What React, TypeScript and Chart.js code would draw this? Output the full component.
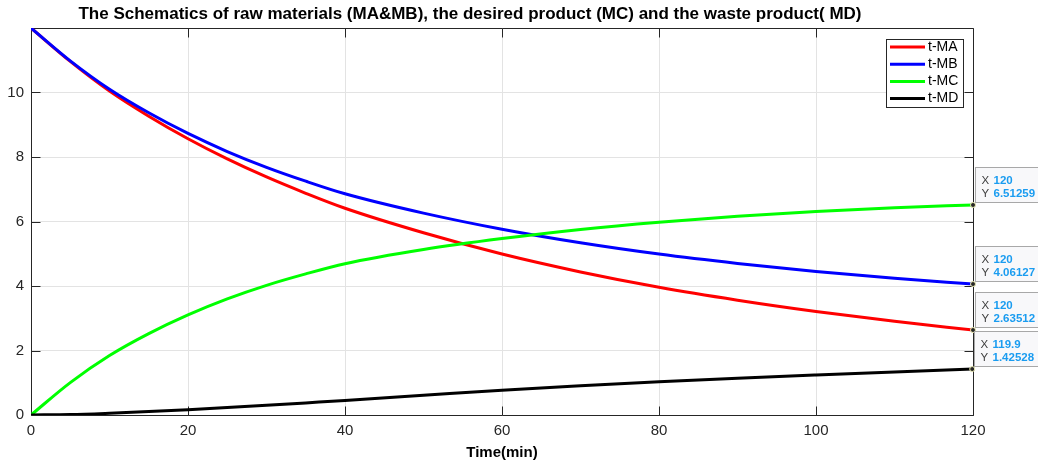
import React, { useEffect, useRef } from 'react';
import { Chart, registerables } from 'chart.js';

Chart.register(...registerables);

const times = [0, 5, 10, 15, 20, 25, 30, 35, 40, 50, 60, 70, 80, 90, 100, 110, 120];
const maValues = [12, 10.965, 10.045, 9.265, 8.565, 7.94, 7.38, 6.875, 6.41, 5.65, 4.99, 4.435, 3.96, 3.56, 3.21, 2.905, 2.635];
const mbValues = [12, 10.98, 10.1, 9.37, 8.73, 8.17, 7.68, 7.25, 6.86, 6.26, 5.76, 5.34, 4.99, 4.7, 4.45, 4.24, 4.061];
const mcValues = [0, 1.005, 1.845, 2.525, 3.105, 3.6, 4.02, 4.375, 4.69, 5.13, 5.47, 5.755, 5.98, 6.16, 6.31, 6.425, 6.513];
const mdValues = [0, 0.015, 0.055, 0.105, 0.165, 0.23, 0.3, 0.375, 0.45, 0.61, 0.77, 0.905, 1.03, 1.14, 1.24, 1.335, 1.425];
const seriesLabels = ['t-MA', 't-MB', 't-MC', 't-MD'];
const seriesColors = ['#ff0000', '#0000ff', '#00ff00', '#000000'];
const xTicks = [0, 20, 40, 60, 80, 100, 120];
const yTicks = [0, 2, 4, 6, 8, 10];
const tipX = ['120', '120', '120', '119.9'];
const tipY = ['6.51259', '4.06127', '2.63512', '1.42528'];
const chartTitle = 'The Schematics of raw materials (MA&MB), the desired product (MC) and the waste product( MD)';
const xTitle = 'Time(min)';

const FONT = '"Liberation Sans", Arial, Helvetica, sans-serif';
const AXIS = '#262626';

export default function App() {
  const ref = useRef<HTMLCanvasElement>(null);

  useEffect(() => {
    const canvas = ref.current!;
    const all = [maValues, mbValues, mcValues, mdValues];
    const datasets = all.map((vals, i) => ({
      label: seriesLabels[i],
      data: times.map((t, j) => ({ x: t, y: vals[j] })),
      borderColor: seriesColors[i],
      backgroundColor: seriesColors[i],
      borderWidth: 3,
      pointRadius: 0,
      cubicInterpolationMode: 'monotone' as const,
      fill: false,
      order: 4 - i,
    }));

    const framePlugin = {
      id: 'frame',
      beforeDatasetsDraw(chart: any) {
        const { ctx, chartArea: a, scales } = chart;
        const L = Math.floor(a.left) + 0.5;
        const R = Math.floor(a.right) + 0.5;
        const T = Math.floor(a.top) + 0.5;
        const B = Math.floor(a.bottom) + 0.5;
        ctx.save();
        ctx.strokeStyle = AXIS;
        ctx.lineWidth = 1;
        ctx.beginPath();
        ctx.rect(L, T, R - L, B - T);
        const tl = 9;
        xTicks.forEach((v) => {
          const p = Math.round(scales.x.getPixelForValue(v)) + 0.5;
          ctx.moveTo(p, B); ctx.lineTo(p, B - tl);
          ctx.moveTo(p, T); ctx.lineTo(p, T + tl);
        });
        yTicks.forEach((v) => {
          const p = Math.round(scales.y.getPixelForValue(v)) + 0.5;
          ctx.moveTo(L, p); ctx.lineTo(L + tl, p);
          ctx.moveTo(R, p); ctx.lineTo(R - tl, p);
        });
        ctx.stroke();
        ctx.restore();
      },
    };

    const overlayPlugin = {
      id: 'overlay',
      afterDraw(chart: any) {
        const { ctx, scales } = chart;
        ctx.save();
        // title
        ctx.fillStyle = '#000';
        ctx.font = `bold 17px ${FONT}`;
        ctx.textAlign = 'center';
        ctx.textBaseline = 'middle';
        ctx.fillText(chartTitle, 470, 14);

        // legend
        const lx = 886.5, ly = 39.5, lw = 77, lh = 68;
        ctx.fillStyle = '#ffffff';
        ctx.fillRect(lx, ly, lw, lh);
        ctx.strokeStyle = AXIS;
        ctx.lineWidth = 1;
        ctx.strokeRect(lx, ly, lw, lh);
        ctx.font = `14px ${FONT}`;
        ctx.textAlign = 'left';
        ctx.textBaseline = 'middle';
        seriesLabels.forEach((lab, i) => {
          const y = 47 + i * 17.2;
          ctx.strokeStyle = seriesColors[i];
          ctx.lineWidth = 3;
          ctx.beginPath();
          ctx.moveTo(890, y);
          ctx.lineTo(925, y);
          ctx.stroke();
          ctx.fillStyle = '#000';
          ctx.fillText(lab, 928, y);
        });

        // datatips
        tipX.forEach((xs, i) => {
          const px = scales.x.getPixelForValue(parseFloat(xs));
          const py = scales.y.getPixelForValue(parseFloat(tipY[i]));
          const bx = Math.round(px) + 2.5;
          const by = Math.round(py) - 37.5;
          ctx.fillStyle = '#f8f8fa';
          ctx.fillRect(bx, by, 80, 35);
          ctx.strokeStyle = '#a8a8a8';
          ctx.lineWidth = 1;
          ctx.strokeRect(bx, by, 80, 35);
          ctx.textAlign = 'left';
          ctx.textBaseline = 'middle';
          ctx.font = `11.5px ${FONT}`;
          ctx.fillStyle = '#404040';
          ctx.fillText('X', bx + 6, by + 13);
          ctx.fillText('Y', bx + 6, by + 26.5);
          ctx.font = `bold 11.5px ${FONT}`;
          ctx.fillStyle = '#1a9cf0';
          ctx.fillText(xs, bx + 18, by + 13);
          ctx.fillText(tipY[i], bx + 18, by + 26.5);
          // marker
          ctx.beginPath();
          ctx.arc(px, py, 2.5, 0, Math.PI * 2);
          ctx.fillStyle = '#262626';
          ctx.fill();
          ctx.strokeStyle = '#e8e8b0';
          ctx.lineWidth = 1;
          ctx.stroke();
        });
        ctx.restore();
      },
    };

    const chart = new Chart(canvas, {
      type: 'line',
      data: { datasets },
      options: {
        animation: false,
        responsive: false,
        devicePixelRatio: 1,
        layout: { padding: { top: 28, right: 65, left: 0, bottom: 0 } },
        plugins: {
          legend: { display: false },
          title: { display: false },
          tooltip: { enabled: false },
        },
        scales: {
          x: {
            type: 'linear',
            min: 0,
            max: 120,
            afterBuildTicks: (s: any) => { s.ticks = xTicks.map((v) => ({ value: v })); },
            afterFit: (s: any) => { s.height = 49; },
            grid: { color: '#e3e3e3', lineWidth: 1, drawTicks: false },
            border: { display: false },
            ticks: {
              padding: 7,
              color: AXIS,
              font: { family: FONT, size: 15 },
              maxRotation: 0,
              callback: (v: any) => String(v),
            },
            title: {
              display: true,
              text: xTitle,
              color: '#000',
              font: { family: FONT, size: 15, weight: 'bold' },
              padding: { top: 0, bottom: 2 },
            },
          },
          y: {
            type: 'linear',
            min: 0,
            max: 12,
            afterBuildTicks: (s: any) => { s.ticks = yTicks.map((v) => ({ value: v })); },
            afterFit: (s: any) => { s.width = 31; },
            grid: { color: '#e3e3e3', lineWidth: 1, drawTicks: false },
            border: { display: false },
            ticks: {
              padding: 7,
              color: AXIS,
              font: { family: FONT, size: 15 },
              callback: (v: any) => String(v),
            },
          },
        },
      },
      plugins: [framePlugin, overlayPlugin],
    });
    return () => chart.destroy();
  }, []);

  return (
    <div style={{ position: 'absolute', left: 0, top: 0, width: 1038, height: 464, background: '#fff' }}>
      <canvas ref={ref} width={1038} height={464} style={{ display: 'block' }} />
    </div>
  );
}
